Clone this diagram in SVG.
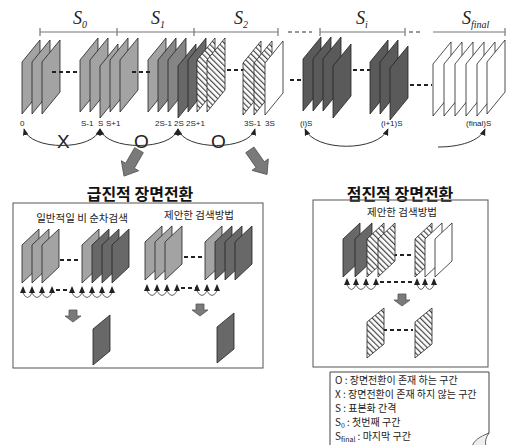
<svg xmlns="http://www.w3.org/2000/svg" width="513" height="445" viewBox="0 0 513 445">
<defs>
<style>
.fr{stroke:#222;stroke-width:0.8;stroke-linejoin:round}
.g1{fill:#a3a3a3}.g2{fill:#858585}.g3{fill:#686868}.g4{fill:#5a5a5a}.wh{fill:#fff}.ht{fill:url(#hatch)}
.dash{stroke:#222;stroke-width:2;stroke-dasharray:4 3;fill:none}
.tl{stroke:#777;stroke-width:1.2;fill:none}
.tld{stroke:#777;stroke-width:1.5;stroke-dasharray:4 3;fill:none}
.arc{stroke:#333;stroke-width:1;fill:none;marker-start:url(#ah);marker-end:url(#ah)}
.arc1{stroke:#333;stroke-width:1;fill:none;marker-end:url(#ah)}
.sa{stroke:#555;stroke-width:0.9;fill:none}
.tri{fill:#222}
.big{fill:#7a7a7a;stroke:#555;stroke-width:0.8}
.sl{font-family:"Liberation Serif",serif;font-style:italic;font-size:18px;fill:#222}
.lb{font-family:"Liberation Sans",sans-serif;font-size:8px;fill:#222}
.xo{font-family:"Liberation Sans",sans-serif;font-size:19px;fill:#222}
.ti{font-family:"Noto Sans CJK KR",sans-serif;font-size:16px;font-weight:bold;fill:#111;text-anchor:middle}
.st{font-family:"Noto Sans CJK KR",sans-serif;font-size:10.5px;fill:#222;text-anchor:middle}
.lg{font-family:"Noto Sans CJK KR",sans-serif;font-size:10px;fill:#222}
.box{fill:none;stroke:#555;stroke-width:1}
</style>
<pattern id="hatch" patternUnits="userSpaceOnUse" width="4" height="4" patternTransform="rotate(-45)"><rect width="4" height="4" fill="#fff"/><line x1="0.6" y1="0" x2="0.6" y2="4" stroke="#444" stroke-width="1.2"/></pattern>
<path id="tf" d="M0,22 L18,0 L18,52 L0,74 Z"/>
<path id="bf" d="M0,16 L17,0 L17,38 L0,54 Z"/>
<path id="sf" d="M0,14 L17,0 L17,36 L0,50 Z"/>
<polygon id="ua" points="-3,3 0,-4 3,3"/>
<polygon id="bigarrow" points="-5,-16 5,-16 5,2 10,2 0,14 -10,2 -5,2"/>
<polygon id="smallarrow" points="-4,-6 4,-6 4,0 8,0 0,6 -8,0 -4,0"/>
<marker id="ah" viewBox="0 0 10 10" refX="9" refY="5" markerWidth="7" markerHeight="7" markerUnits="userSpaceOnUse" orient="auto-start-reverse"><path d="M0,1 L10,5 L0,9 Z" fill="#222"/></marker>
</defs>
<rect width="513" height="445" fill="#fff"/>

<g id="timeline">
<path class="tl" d="M40,32 H278 M40,28 V36 M117,28 V36 M194,28 V36 M278,28 V36"/>
<path class="tld" d="M288,32 H312"/>
<path class="tl" d="M320,32 H405 M320,28 V36 M405,28 V36"/>
<path class="tld" d="M409,32 H422"/>
<path class="tl" d="M433,32 H505 M505,28 V36"/>
<text class="sl" x="73" y="24">S<tspan font-size="10" dy="4">0</tspan></text>
<text class="sl" x="151" y="24">S<tspan font-size="10" dy="4">1</tspan></text>
<text class="sl" x="234" y="24">S<tspan font-size="10" dy="4">2</tspan></text>
<text class="sl" x="356" y="24">S<tspan font-size="10" dy="4">i</tspan></text>
<text class="sl" x="462" y="24">S<tspan font-size="10" dy="4">final</tspan></text>
</g>

<g id="grp0">
<use href="#tf" x="22" y="40" class="fr g1"/><use href="#tf" x="32" y="40" class="fr g1"/><use href="#tf" x="42" y="40" class="fr g1"/>
</g>
<g id="grpS">
<use href="#tf" x="80" y="38" class="fr g1"/><use href="#tf" x="90" y="38" class="fr g1"/><use href="#tf" x="100" y="44" class="fr g1"/><use href="#tf" x="110" y="38" class="fr g1"/><use href="#tf" x="120" y="38" class="fr g1"/>
</g>
<g id="grp2S">
<use href="#tf" x="148" y="38" class="fr g1"/><use href="#tf" x="158" y="38" class="fr g2"/><use href="#tf" x="168" y="38" class="fr g2"/><use href="#tf" x="178" y="44" class="fr g3"/><use href="#tf" x="188" y="38" class="fr g3"/><use href="#tf" x="197" y="38" class="fr ht"/><use href="#tf" x="207" y="38" class="fr ht"/>
</g>
<g id="grp3S">
<use href="#tf" x="243" y="41" class="fr ht"/><use href="#tf" x="254" y="41" class="fr ht"/><use href="#tf" x="265" y="41" class="fr wh"/>
</g>
<g id="grpiS">
<use href="#tf" x="303" y="37" class="fr g4"/><use href="#tf" x="313" y="37" class="fr g4"/><use href="#tf" x="323" y="37" class="fr g4"/><use href="#tf" x="333" y="44" class="fr g4"/>
</g>
<g id="grpi1S">
<use href="#tf" x="370" y="40" class="fr g4"/><use href="#tf" x="380" y="40" class="fr g4"/><use href="#tf" x="390" y="46" class="fr g4"/>
</g>
<g id="grpfinal">
<use href="#tf" x="433" y="42" class="fr wh"/><use href="#tf" x="444" y="42" class="fr wh"/><use href="#tf" x="455" y="42" class="fr wh"/><use href="#tf" x="466" y="42" class="fr wh"/><use href="#tf" x="477" y="42" class="fr wh"/><use href="#tf" x="487" y="40" class="fr wh"/>
</g>

<g id="labels">
<text class="lb" x="20" y="126">0</text>
<text class="lb" x="81" y="126">S-1</text>
<text class="lb" x="98" y="126">S</text>
<text class="lb" x="106" y="126">S+1</text>
<text class="lb" x="155" y="126">2S-1</text>
<text class="lb" x="174" y="126">2S</text>
<text class="lb" x="186" y="126">2S+1</text>
<text class="lb" x="244" y="126">3S-1</text>
<text class="lb" x="265" y="126">3S</text>
<text class="lb" x="300" y="126">(i)S</text>
<text class="lb" x="381" y="126">(i+1)S</text>
<text class="lb" x="466" y="126">(final)S</text>
<text class="xo" x="57" y="148">X</text>
<text class="xo" x="134" y="148">O</text>
<text class="xo" x="211" y="148">O</text>
</g>

<g id="connectors">
<path class="dash" d="M52,72 H78"/>
<path class="dash" d="M132,72 H150"/>
<path class="dash" d="M227,70 H243"/>
<path class="dash" d="M290,80 H303"/>
<path class="dash" d="M353,70 H370"/>
<path class="dash" d="M410,85 H432"/>
<path class="arc" d="M24,129 C30,151 94,151 100,129"/>
<path class="arc" d="M100,129 C106,151 172,151 178,129"/>
<path class="arc" d="M178,129 C184,151 249,151 255,129"/>
<path class="arc" d="M305,129 C315,152 378,152 388,129"/>
<path class="arc1" d="M438,147 C460,147 480,141 485,129"/>
<use href="#bigarrow" class="big" transform="translate(131,164) rotate(30)"/>
<use href="#bigarrow" class="big" transform="translate(259,163) rotate(-35)"/>
<path class="dash" d="M53,260 H78"/>
<path class="dash" d="M177,257 H202"/>
<path class="dash" d="M393,255 H413"/>
<path class="dash" d="M383,330 H413"/>
<path class="dash" d="M56,290 H70"/>
<path class="dash" d="M181,288 H196"/>
<path class="dash" d="M380,282 H413"/>
<path class="sa" d="M23,293 Q27.5,302 32,293 M32,293 Q37,302 42,293 M42,293 Q47,302 52,293 M72,293 Q77,302 82,293 M82,293 Q87,302 92,293 M92,293 Q97,302 102,293 M102,293 Q107,302 112,293"/>
<path class="sa" d="M147,291 Q152,300 157,291 M157,291 Q162,300 167,291 M167,291 Q172,300 177,291 M197,291 Q202,300 207,291 M207,291 Q212,300 217,291"/>
<path class="sa" d="M347,285 Q351.5,294 356,285 M356,285 Q361,294 366,285 M366,285 Q371,294 376,285 M417,285 Q421,294 425,285 M425,285 Q429.5,294 434,285"/>
<use href="#smallarrow" class="big" x="73" y="316"/>
<use href="#smallarrow" class="big" x="200" y="310"/>
<use href="#smallarrow" class="big" x="402" y="300"/>
</g>

<g id="titles">
<text class="ti" x="140" y="200">급진적 장면전환</text>
<text class="ti" x="400" y="200">점진적 장면전환</text>
</g>

<g id="abruptBox">
<rect class="box" x="13" y="203" width="250" height="165"/>
<text class="st" x="82" y="222">일반적일 비 순차검색</text>
<text class="st" x="199" y="219">제안한 검색방법</text>
<g id="nonseq">
<use href="#bf" x="22" y="229" class="fr g1"/><use href="#bf" x="32" y="229" class="fr g1"/><use href="#bf" x="42" y="229" class="fr g1"/>
<use href="#bf" x="82" y="229" class="fr g1"/><use href="#bf" x="92" y="229" class="fr g3"/><use href="#bf" x="102" y="229" class="fr g3"/><use href="#bf" x="112" y="229" class="fr g3"/>
<use href="#ua" class="tri" x="23" y="290"/><use href="#ua" class="tri" x="32" y="290"/><use href="#ua" class="tri" x="42" y="290"/><use href="#ua" class="tri" x="52" y="290"/>
<use href="#ua" class="tri" x="72" y="290"/><use href="#ua" class="tri" x="82" y="290"/><use href="#ua" class="tri" x="92" y="290"/><use href="#ua" class="tri" x="102" y="290"/><use href="#ua" class="tri" x="112" y="290"/>
<use href="#sf" x="93" y="315" class="fr g3"/>
</g>
<g id="proposedA">
<use href="#bf" x="145" y="226" class="fr g1"/><use href="#bf" x="155" y="226" class="fr g1"/><use href="#bf" x="165" y="226" class="fr g1"/>
<use href="#bf" x="205" y="226" class="fr g1"/><use href="#bf" x="215" y="226" class="fr g3"/><use href="#bf" x="225" y="226" class="fr g3"/><use href="#bf" x="235" y="226" class="fr g3"/>
<use href="#ua" class="tri" x="147" y="288"/><use href="#ua" class="tri" x="157" y="288"/><use href="#ua" class="tri" x="167" y="288"/><use href="#ua" class="tri" x="177" y="288"/>
<use href="#ua" class="tri" x="197" y="288"/><use href="#ua" class="tri" x="207" y="288"/><use href="#ua" class="tri" x="217" y="288"/>
<use href="#sf" x="217" y="313" class="fr g3"/>
</g>
</g>

<g id="gradualBox">
<rect class="box" x="313" y="200" width="175" height="167"/>
<text class="st" x="402" y="216">제안한 검색방법</text>
<use href="#bf" x="343" y="223" class="fr g3"/><use href="#bf" x="355" y="223" class="fr g3"/><use href="#bf" x="367" y="223" class="fr ht"/><use href="#bf" x="378" y="223" class="fr ht"/>
<use href="#bf" x="415" y="223" class="fr ht"/><use href="#bf" x="425" y="223" class="fr wh"/><use href="#bf" x="435" y="223" class="fr wh"/>
<use href="#ua" class="tri" x="347" y="282"/><use href="#ua" class="tri" x="356" y="282"/><use href="#ua" class="tri" x="366" y="282"/><use href="#ua" class="tri" x="376" y="282"/>
<use href="#ua" class="tri" x="417" y="282"/><use href="#ua" class="tri" x="425" y="282"/><use href="#ua" class="tri" x="434" y="282"/>
<use href="#sf" x="367" y="308" class="fr ht"/><use href="#sf" x="415" y="308" class="fr ht"/>
</g>

<g id="legend">
<path d="M330,446 V372 H489 V433 Q480,437 472,446" fill="#fff" stroke="#444" stroke-width="1"/>
<path d="M472,446 Q475,438 489,433 Q484,440 486,446" fill="#eee" stroke="#444" stroke-width="0.8"/>
<text class="lg" x="335" y="384">O : 장면전환이 존재 하는 구간</text>
<text class="lg" x="335" y="398">X : 장면전환이 존재 하지 않는 구간</text>
<text class="lg" x="335" y="412">S : 표본화 간격</text>
<text class="lg" x="335" y="426">S<tspan font-size="7" dy="2">0</tspan><tspan dy="-2"> : 첫번째 구간</tspan></text>
<text class="lg" x="335" y="440">S<tspan font-size="7" dy="2">final</tspan><tspan dy="-2"> : 마지막 구간</tspan></text>
</g>
</svg>
